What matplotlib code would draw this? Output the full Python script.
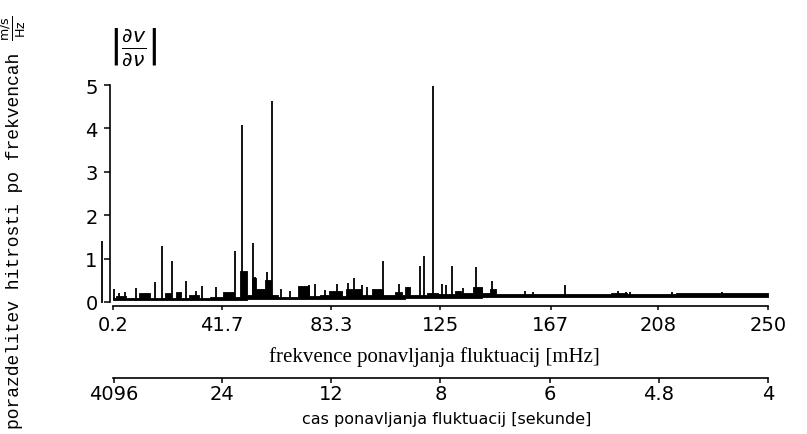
import matplotlib
matplotlib.use('Agg')
import matplotlib.pyplot as plt
import numpy as np
from matplotlib import font_manager

# spectral lines standing out of the background (frequency in mHz, amplitude)
peak_freq = [0.4, 2.2, 4.6, 8.7, 15.9, 18.8, 22.5, 28.0, 31.8, 34.1, 39.4,
             46.6, 49.4, 53.3, 54.2, 58.7, 60.6, 64.1, 67.6, 74.8, 77.1,
             80.9, 85.6, 89.8, 92.1, 94.9, 96.8, 103.2, 109.3, 112.7, 117.2,
             118.8, 122.3, 125.5, 127.1, 129.3, 133.7, 138.4, 141.0, 144.8,
             157.3, 160.4, 172.5, 192.9, 195.8, 197.3, 213.3, 232.3]
peak_amp = [0.30, 0.20, 0.24, 0.32, 0.47, 1.30, 0.94, 0.49, 0.26, 0.37, 0.34,
            1.18, 4.08, 1.35, 0.57, 0.68, 4.63, 0.30, 0.25, 0.40, 0.41,
            0.27, 0.41, 0.43, 0.55, 0.39, 0.35, 0.94, 0.41, 0.35, 0.84,
            1.05, 4.98, 0.41, 0.40, 0.84, 0.32, 0.81, 0.33, 0.48,
            0.26, 0.24, 0.40, 0.25, 0.22, 0.22, 0.22, 0.24]

# low level background of the spectrum: step edges, lower and upper level
floor_freq = [0.2, 1, 5, 10, 14, 20, 22, 24, 26, 29, 33, 37, 42, 46, 48.5,
              51, 53, 54.5, 58, 60.5, 63, 70.5, 75, 79, 82.5, 87.5, 89, 94.5,
              99, 103, 107.5, 110.5, 111.5, 113.5, 116.5, 120, 124, 130.5,
              133, 137.5, 141, 144, 146, 160, 175, 190, 196, 215, 230, 250]
floor_low = [0.05, 0.05, 0.05, 0.05, 0.05, 0.05, 0.05, 0.05, 0.05, 0.05, 0.05,
             0.05, 0.05, 0.05, 0.05, 0.06, 0.06, 0.06, 0.06, 0.06, 0.06, 0.07,
             0.07, 0.07, 0.07, 0.07, 0.08, 0.08, 0.08, 0.08, 0.08, 0.08, 0.09,
             0.09, 0.09, 0.09, 0.10, 0.10, 0.10, 0.10, 0.11, 0.11, 0.11, 0.11,
             0.11, 0.12, 0.12, 0.12, 0.12, 0.12]
floor_amp = [0.10, 0.13, 0.09, 0.20, 0.09, 0.20, 0.10, 0.22, 0.10, 0.15, 0.09,
             0.12, 0.24, 0.12, 0.72, 0.15, 0.55, 0.30, 0.50, 0.15, 0.12, 0.37,
             0.14, 0.15, 0.26, 0.14, 0.30, 0.15, 0.30, 0.15, 0.22, 0.15, 0.35,
             0.16, 0.16, 0.20, 0.18, 0.25, 0.20, 0.35, 0.20, 0.30, 0.19, 0.18,
             0.19, 0.20, 0.18, 0.20, 0.21, 0.21]

# mean value line drawn left of the axis
dc_freq = [-4.2]
dc_amp = [1.4]

freq_ticks = [0.2, 41.7, 83.3, 125, 167, 208, 250]
freq_labels = ['0.2', '41.7', '83.3', '125', '167', '208', '250']
period_ticks = [4096, 24, 12, 8, 6, 4.8, 4]
period_labels = ['4096', '24', '12', '8', '6', '4.8', '4']
amp_ticks = [0, 1, 2, 3, 4, 5]

W, H = 807, 435

installed = {f.name for f in font_manager.fontManager.ttflist}
narrow = 'Liberation Sans Narrow' if 'Liberation Sans Narrow' in installed else 'DejaVu Sans'

fig = plt.figure(figsize=(W / 100, H / 100), dpi=100)

# axes box: f=0.2 at x=113.5, f=250 at x=768; y=0 at 303, 43.4 px per unit
y_top = 5.05
ax = fig.add_axes([113.5 / W, (H - 303) / H, 654.5 / W, y_top * 43.4 / H])

ax.fill_between(floor_freq, floor_low, floor_amp, step='post', color='black', lw=0.6)
# spectral lines start on the lower edge of the background band
peak_base = np.interp(peak_freq, floor_freq, floor_low)
ax.vlines(peak_freq, peak_base, peak_amp, colors='black', lw=1.3)
ax.vlines(dc_freq, -0.03, dc_amp, colors='black', lw=1.3, clip_on=False)

ax.set_xlim(0.2, 250)
ax.set_ylim(0, y_top)

for side in ['top', 'right']:
    ax.spines[side].set_visible(False)
ax.spines['left'].set_position(('outward', 2.5))
ax.spines['bottom'].set_position(('outward', 2.6))
ax.spines['left'].set_bounds(0, 5)
for side in ['left', 'bottom']:
    ax.spines[side].set_linewidth(1.2)

ax.set_xticks(freq_ticks)
ax.set_xticklabels(freq_labels, family=narrow, fontsize=14)
ax.set_yticks(amp_ticks)
ax.set_yticklabels([str(v) for v in amp_ticks], family=narrow, fontsize=14)
ax.tick_params(axis='x', direction='out', length=3, width=1.1, pad=4)
ax.tick_params(axis='y', direction='out', length=4, width=1.1, pad=5)


def to_period(f):
    f = np.asarray(f, dtype=float)
    return 1000.0 / np.where(f == 0, 1e-9, f)


# second scale: repetition time in seconds
sec = ax.secondary_xaxis(-(379 - 303) / (y_top * 43.4), functions=(to_period, to_period))
sec.set_xticks(period_ticks)
sec.set_xticklabels(period_labels, family=narrow, fontsize=14)
sec.tick_params(direction='out', length=3.5, width=1.1, pad=0.5)
sec.spines['bottom'].set_linewidth(1.2)

fig.text(434 / W, 1 - 357 / H, 'frekvence ponavljanja fluktuacij [mHz]',
         family='Liberation Serif', fontsize=15, ha='center', va='center')
fig.text(447 / W, 1 - 420 / H, 'cas ponavljanja fluktuacij [sekunde]',
         family='DejaVu Sans', fontsize=11.5, ha='center', va='center')

fig.text(15 / W, 1 - 241 / H, 'porazdelitev hitrosti po frekvencah',
         family='Liberation Mono', fontsize=13, rotation=90,
         ha='center', va='center')
fig.text(13 / W, 1 - 28 / H, r'$\frac{\mathrm{m/s}}{\mathrm{Hz}}$',
         fontsize=13, rotation=90, ha='center', va='center')
fig.text(133 / W, 1 - 48 / H, r'$\left|\frac{\partial v}{\partial \nu}\right|$',
         fontsize=21, ha='center', va='center')

fig.savefig('out.png', dpi=100)
